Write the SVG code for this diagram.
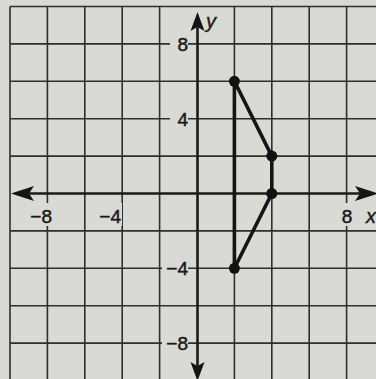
<svg xmlns="http://www.w3.org/2000/svg" width="376" height="379" viewBox="0 0 376 379">
  <style>
    .grid { stroke: #2e2e2e; stroke-width: 1.6; fill: none; }
    .axis { stroke: #1e1a1a; stroke-width: 2.6; fill: none; }
    .fig { stroke: #151515; stroke-width: 3.6; fill: none; stroke-linejoin: round; }
    .pt { fill: #111; }
    .lbl { font-family: "Liberation Sans", Arial, sans-serif; font-size: 19px; fill: #1a1a1a; stroke: #1a1a1a; stroke-width: 0.5; }
    .var { font-family: "Liberation Sans", Arial, sans-serif; font-size: 20px; font-style: italic; fill: #1a1a1a; stroke: #1a1a1a; stroke-width: 0.4; }
    .ko { fill: #d9d9d5; }
    .ah { fill: #151515; }
  </style>
  <rect x="0" y="0" width="376" height="379" fill="#d9d9d5"/>
  <g id="grid">
    <path class="grid" d="M10 6.5V379 M47.4 6.5V379 M84.8 6.5V379 M122.2 6.5V379 M159.6 6.5V379 M234.4 6.5V379 M271.8 6.5V379 M309.2 6.5V379 M346.6 6.5V379"/>
    <path class="grid" d="M10 6.5H376 M10 43.9H376 M10 81.3H376 M10 118.7H376 M10 156.1H376 M10 230.9H376 M10 268.3H376 M10 305.7H376 M10 343.1H376"/>
  </g>
  <g id="labels">
    <rect class="ko" x="170" y="36" width="18" height="17"/>
    <text class="lbl" x="188" y="51" text-anchor="end">8</text>
    <rect class="ko" x="170" y="110" width="18" height="17"/>
    <text class="lbl" x="188" y="125.5" text-anchor="end">4</text>
    <rect class="ko" x="162" y="260" width="26" height="17"/>
    <text class="lbl" x="188" y="275" text-anchor="end">−4</text>
    <rect class="ko" x="162" y="335" width="26" height="17"/>
    <text class="lbl" x="188" y="350" text-anchor="end">−8</text>
    <rect class="ko" x="23" y="203" width="30" height="23"/>
    <text class="lbl" x="52" y="223" text-anchor="end">−8</text>
    <rect class="ko" x="98" y="203" width="24" height="23"/>
    <text class="lbl" x="121" y="223" text-anchor="end">−4</text>
    <rect class="ko" x="340" y="203" width="14" height="23"/>
    <text class="lbl" x="347" y="223" text-anchor="middle">8</text>
    <text class="var" x="366" y="223">x</text>
    <text class="var" x="206" y="28">y</text>
  </g>
  <g id="axes">
    <path class="axis" d="M20 193.5H370 M197.5 22V372"/>
    <path class="ah" d="M11 193.5 L34 186 L29 193.5 L34 201 Z"/>
    <path class="ah" d="M378 193.5 L355 186 L360 193.5 L355 201 Z"/>
    <path class="ah" d="M197.5 12 L190.5 31 L197.5 27 L204.5 31 Z"/>
    <path class="ah" d="M197.5 381 L190.5 362 L197.5 366 L204.5 362 Z"/>
  </g>
  <g id="figure">
    <path class="fig" d="M234.4 81.3 L271.8 156.1 L271.8 193.5 L234.4 268.3 Z"/>
    <circle class="pt" cx="234.4" cy="81.3" r="5.5"/>
    <circle class="pt" cx="271.8" cy="156.1" r="5.5"/>
    <circle class="pt" cx="271.8" cy="193.5" r="5.5"/>
    <circle class="pt" cx="234.4" cy="268.3" r="5.5"/>
  </g>
</svg>
